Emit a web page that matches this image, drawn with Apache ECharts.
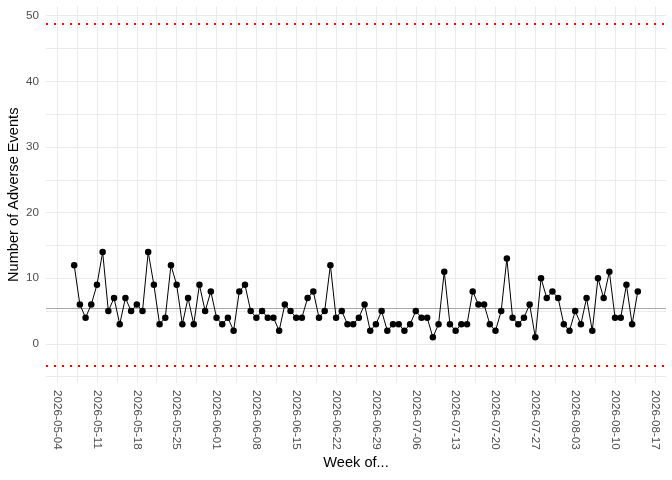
<!DOCTYPE html>
<html><head><meta charset="utf-8">
<script src="https://cdn.jsdelivr.net/npm/echarts@6/dist/echarts.min.js"></script>
<style>html,body{margin:0;padding:0;background:#fff}#c{width:672px;height:480px}</style>
</head><body><div id="c"></div>
<script>
// ---- data ----
const firstDate = '2026-05-07';          // first daily observation
const events = [
  12,6,4,6,9,14,5,7,3,7,
  5,6,5,14,9,3,4,12,9,3,
  7,3,9,5,8,4,3,4,2,8,
  9,5,4,5,4,4,2,6,5,4,
  4,7,8,4,5,12,4,5,3,3,
  4,6,2,3,5,2,3,3,2,3,
  5,4,4,1,3,11,3,2,3,3,
  8,6,6,3,2,5,13,4,3,4,
  6,1,10,7,8,7,3,2,5,3,
  7,2,10,7,11,4,4,9,3,8
];
const centerLine = 5.42;
const upperLimit = 48.8;
const lowerLimit = -3.35;
const weekLabels = ['2026-05-04','2026-05-11','2026-05-18','2026-05-25','2026-06-01','2026-06-08',
  '2026-06-15','2026-06-22','2026-06-29','2026-07-06','2026-07-13','2026-07-20','2026-07-27',
  '2026-08-03','2026-08-10','2026-08-17'];
const yTickValues = [0,10,20,30,40,50];
const yGridValues = [-5,0,5,10,15,20,25,30,35,40,45,50];

// ---- helpers ----
const DAY = 86400000;
const origin = Date.parse(weekLabels[0] + 'T00:00:00Z');
const toDay = s => (Date.parse(s + 'T00:00:00Z') - origin) / DAY;
const fromDay = d => new Date(origin + Math.round(d) * DAY).toISOString().slice(0, 10);
const start = toDay(firstDate);
const points = events.map((v, i) => [start + i, v]);

const xs = points.map(p => p[0]);
const xLo = Math.min(...xs), xHi = Math.max(...xs);
const xPad = (xHi - xLo) * 0.05;
const xMin = xLo - xPad, xMax = xHi + xPad;
const yLo = Math.min(lowerLimit, ...events), yHi = Math.max(upperLimit, ...events);
const yPad = (yHi - yLo) * 0.05;
const yMin = yLo - yPad, yMax = yHi + yPad;

const xTickValues = weekLabels.map(toDay);
const xGridValues = [];
xTickValues.forEach(d => { xGridValues.push(d); if (d + 3.5 <= xMax) xGridValues.push(d + 3.5); });

const font = "'Liberation Sans', Arial, sans-serif";
const chart = echarts.init(document.getElementById('c'), null, {renderer: 'canvas'});
chart.setOption({
  animation: false,
  backgroundColor: '#ffffff',
  grid: {left: 46, right: 6, top: 6.5, bottom: 97, containLabel: false, outerBoundsMode: 'none'},
  xAxis: {
    type: 'value', min: xMin, max: xMax,
    name: 'Week of...', nameLocation: 'middle', nameGap: 72, nameMoveOverlap: false,
    nameTextStyle: {fontFamily: font, fontSize: 14.6, color: '#000'},
    axisLine: {show: false},
    axisTick: {show: false, customValues: xGridValues},
    axisLabel: {customValues: xTickValues, rotate: -90, margin: 7, fontFamily: font, fontSize: 11.7,
      color: '#4d4d4d', formatter: v => fromDay(v)},
    splitLine: {show: true, lineStyle: {color: '#ebebeb', width: 1}}
  },
  yAxis: {
    type: 'value', min: yMin, max: yMax,
    name: 'Number of Adverse Events', nameLocation: 'middle', nameGap: 25, nameMoveOverlap: false,
    nameTextStyle: {fontFamily: font, fontSize: 14.6, color: '#000'},
    axisLine: {show: false},
    axisTick: {show: false, customValues: yGridValues},
    axisLabel: {customValues: yTickValues, margin: 7, fontFamily: font, fontSize: 11.7, color: '#4d4d4d'},
    splitLine: {show: true, lineStyle: {color: '#ebebeb', width: 1}}
  },
  series: [{
    type: 'line',
    data: points,
    symbol: 'circle', symbolSize: 6.5,
    itemStyle: {color: '#000'},
    lineStyle: {color: '#000', width: 1},
    z: 5,
    markLine: {
      silent: true, symbol: 'none', label: {show: false}, animation: false,
      data: [
        {yAxis: centerLine, lineStyle: {color: '#a8a8a8', width: 1, type: 'solid'}},
        {yAxis: upperLimit, lineStyle: {color: '#ff0000', width: 2, type: [2, 6]}},
        {yAxis: lowerLimit, lineStyle: {color: '#ff0000', width: 2, type: [2, 6]}}
      ]
    }
  }]
});
</script>
</body></html>
